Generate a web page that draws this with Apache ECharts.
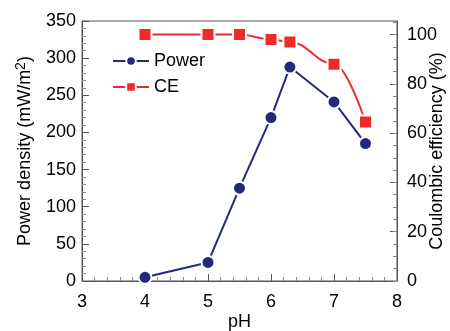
<!DOCTYPE html>
<html>
<head>
<meta charset="utf-8">
<script src="https://cdn.jsdelivr.net/npm/echarts@6/dist/echarts.min.js"></script>
<style>
  html, body { margin: 0; padding: 0; background: #fff; }
  #main { width: 450px; height: 331px; }
</style>
</head>
<body>
<div id="main"></div>
<script>
// values
const pH = [4, 5, 5.5, 6, 6.3, 7, 7.5];
const power = [5, 25, 125, 220, 288, 241, 185];
const ce = [100, 100, 100, 98, 97, 88, 64.5];

const FONT = 'Liberation Sans, Arial, sans-serif';
const AXIS = '#555';
const NAVY = '#232a7c';
const RED = '#ee2b2b';

const pairs = (xs, ys) => xs.map((x, i) => [x, ys[i]]);

var myChart = echarts.init(document.getElementById('main'));
myChart.setOption({
  animation: false,
  textStyle: { fontFamily: FONT, color: '#000' },
  grid: {
    left: 82, right: 53, top: 21, bottom: 50,
    outerBoundsMode: 'none', containLabel: false,
    show: true, borderColor: AXIS, borderWidth: 1
  },
  legend: {
    orient: 'vertical',
    left: 107, top: 47,
    itemWidth: 36, itemHeight: 12, itemGap: 8,
    textStyle: { fontSize: 18, fontFamily: FONT, color: '#000' },
    data: ['Power', 'CE']
  },
  xAxis: {
    type: 'value', min: 3, max: 8, interval: 1,
    name: 'pH', nameLocation: 'middle', nameGap: 32, nameMoveOverlap: false,
    nameTextStyle: { fontSize: 18, fontFamily: FONT, color: '#000' },
    axisLine: { lineStyle: { color: AXIS } },
    axisTick: { inside: true, length: 7, lineStyle: { color: AXIS } },
    minorTick: { show: true, splitNumber: 5, length: 4, lineStyle: { color: '#888' } },
    splitLine: { show: false },
    axisLabel: { fontSize: 18, color: '#000', margin: 12 }
  },
  yAxis: [
    {
      type: 'value', min: 0, max: 350, interval: 50,
      name: 'Power density (mW/m{sup|2})', nameLocation: 'middle', nameGap: 45, nameMoveOverlap: false,
      nameTextStyle: {
        fontSize: 18, fontFamily: FONT, color: '#000',
        rich: { sup: { fontSize: 14, fontFamily: FONT, color: '#000', padding: [0, 0, 9, 0], verticalAlign: 'bottom' } }
      },
      axisLine: { show: true, lineStyle: { color: AXIS } },
      axisTick: { inside: true, length: 7, lineStyle: { color: AXIS } },
      minorTick: { show: true, splitNumber: 5, length: 4, lineStyle: { color: '#888' } },
      splitLine: { show: false },
      axisLabel: { fontSize: 18, color: '#000', margin: 6 }
    },
    {
      type: 'value', position: 'right', min: 0, max: 105.5, interval: 20,
      name: 'Coulombic efficiency (%)', nameLocation: 'middle', nameGap: 31, nameMoveOverlap: false,
      nameTextStyle: { fontSize: 18, fontFamily: FONT, color: '#000' },
      axisLine: { show: true, lineStyle: { color: AXIS } },
      axisTick: { inside: true, length: 7, lineStyle: { color: AXIS } },
      splitLine: { show: false },
      axisLabel: { fontSize: 18, color: '#000', margin: 10, showMaxLabel: false }
    },
    {
      // minor ticks for the right axis
      type: 'value', position: 'right', min: 0, max: 105.5, interval: 5,
      axisLine: { show: false },
      axisTick: { inside: true, length: 4, lineStyle: { color: '#888' } },
      splitLine: { show: false },
      axisLabel: { show: false }
    }
  ],
  series: [
    {
      name: 'Power', type: 'line', yAxisIndex: 0,
      data: pairs(pH, power),
      symbol: 'circle', symbolSize: 13,
      lineStyle: { color: NAVY, width: 2 },
      itemStyle: { color: NAVY, borderColor: '#fff', borderWidth: 2 }
    },
    {
      name: 'CE', type: 'line', yAxisIndex: 1,
      data: pairs(pH, ce),
      smooth: 0.4, smoothMonotone: 'x',
      symbol: 'rect', symbolSize: 13,
      lineStyle: { color: RED, width: 2 },
      itemStyle: { color: RED, borderColor: '#fff', borderWidth: 2 }
    }
  ]
});
</script>
</body>
</html>
